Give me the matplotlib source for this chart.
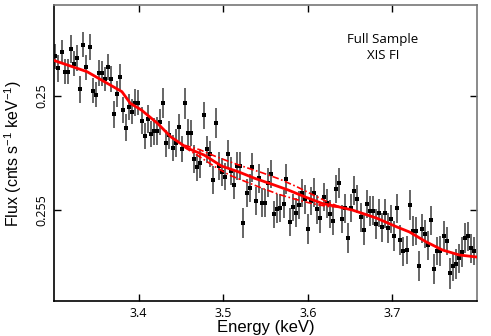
import matplotlib
matplotlib.use("Agg")
import matplotlib.pyplot as plt

# data points (energy in keV, flux, 1-sigma error)
energy = [3.3016, 3.3052, 3.3091, 3.3126, 3.3165, 3.3200, 3.3236, 3.3271, 3.3311, 3.3347,
          3.3382, 3.3421, 3.3457, 3.3492, 3.3528, 3.3567, 3.3602, 3.3637, 3.3673, 3.3708,
          3.3744, 3.3784, 3.3819, 3.3855, 3.3890, 3.3926, 3.3961, 3.3996, 3.4035, 3.4074,
          3.4110, 3.4145, 3.4181, 3.4216, 3.4252, 3.4292, 3.4327, 3.4363, 3.4402, 3.4437,
          3.4472, 3.4511, 3.4547, 3.4582, 3.4618, 3.4658, 3.4693, 3.4729, 3.4768, 3.4803,
          3.4839, 3.4874, 3.4909, 3.4945, 3.4980, 3.5019, 3.5055, 3.5090, 3.5126, 3.5166,
          3.5201, 3.5237, 3.5276, 3.5311, 3.5346, 3.5385, 3.5421, 3.5456, 3.5492, 3.5532,
          3.5567, 3.5603, 3.5638, 3.5677, 3.5713, 3.5748, 3.5787, 3.5822, 3.5858, 3.5893,
          3.5933, 3.5969, 3.6004, 3.6043, 3.6079, 3.6114, 3.6150, 3.6189, 3.6224, 3.6259,
          3.6295, 3.6330, 3.6366, 3.6406, 3.6441, 3.6477, 3.6512, 3.6551, 3.6587, 3.6626,
          3.6661, 3.6696, 3.6732, 3.6767, 3.6803, 3.6843, 3.6878, 3.6914, 3.6949, 3.6985,
          3.7024, 3.7059, 3.7094, 3.7130, 3.7169, 3.7204, 3.7240, 3.7275, 3.7311, 3.7351,
          3.7386, 3.7422, 3.7461, 3.7496, 3.7532, 3.7567, 3.7606, 3.7641, 3.7677, 3.7712,
          3.7748, 3.7788, 3.7823, 3.7859, 3.7898, 3.7933, 3.7969]

flux = [0.24825, 0.24879, 0.24808, 0.24893, 0.24893, 0.24793, 0.24858, 0.24835, 0.24971, 0.24775,
        0.24874, 0.24786, 0.24977, 0.24994, 0.24900, 0.24900, 0.24927, 0.24873, 0.24925, 0.25080,
        0.24991, 0.24918, 0.25061, 0.25139, 0.25047, 0.25069, 0.25029, 0.25029, 0.25108, 0.25175,
        0.25101, 0.25167, 0.25154, 0.25154, 0.25113, 0.25032, 0.25207, 0.25171, 0.25229, 0.25207,
        0.25137, 0.25234, 0.25032, 0.25161, 0.25161, 0.25276, 0.25313, 0.25295, 0.25085, 0.25234,
        0.25254, 0.25368, 0.25118, 0.25307, 0.25332, 0.25354, 0.25256, 0.25329, 0.25390, 0.25307,
        0.25307, 0.25556, 0.25424, 0.25402, 0.25313, 0.25461, 0.25361, 0.25468, 0.25468, 0.25380,
        0.25343, 0.25519, 0.25494, 0.25491, 0.25475, 0.25364, 0.25551, 0.25488, 0.25512, 0.25478,
        0.25424, 0.25453, 0.25585, 0.25459, 0.25424, 0.25497, 0.25536, 0.25442, 0.25471, 0.25518,
        0.25547, 0.25408, 0.25380, 0.25538, 0.25493, 0.25621, 0.25491, 0.25415, 0.25452, 0.25532,
        0.25588, 0.25474, 0.25504, 0.25503, 0.25560, 0.25514, 0.25576, 0.25514, 0.25580, 0.25538,
        0.25614, 0.25493, 0.25632, 0.25680, 0.25675, 0.25478, 0.25592, 0.25592, 0.25746, 0.25582,
        0.25605, 0.25655, 0.25544, 0.25759, 0.25680, 0.25679, 0.25613, 0.25635, 0.25778, 0.25746,
        0.25736, 0.25712, 0.25684, 0.25623, 0.25615, 0.25668, 0.25679]

flux_err = [0.00055, 0.00058, 0.00052, 0.00056, 0.00054, 0.00060, 0.00055, 0.00057, 0.00058, 0.00056,
            0.00055, 0.00057, 0.00054, 0.00056, 0.00058, 0.00055, 0.00053, 0.00057, 0.00056, 0.00060,
            0.00055, 0.00058, 0.00056, 0.00059, 0.00057, 0.00055, 0.00058, 0.00056, 0.00060, 0.00058,
            0.00062, 0.00057, 0.00059, 0.00061, 0.00058, 0.00066, 0.00060, 0.00062, 0.00058, 0.00061,
            0.00059, 0.00057, 0.00068, 0.00060, 0.00058, 0.00062, 0.00060, 0.00063, 0.00061, 0.00059,
            0.00058, 0.00062, 0.00064, 0.00060, 0.00061, 0.00059, 0.00063, 0.00060, 0.00062, 0.00061,
            0.00060, 0.00066, 0.00062, 0.00061, 0.00064, 0.00060, 0.00062, 0.00063, 0.00061, 0.00064,
            0.00062, 0.00060, 0.00063, 0.00062, 0.00061, 0.00065, 0.00062, 0.00060, 0.00063, 0.00061,
            0.00062, 0.00064, 0.00066, 0.00061, 0.00063, 0.00062, 0.00064, 0.00061, 0.00063, 0.00062,
            0.00064, 0.00063, 0.00065, 0.00062, 0.00063, 0.00066, 0.00061, 0.00064, 0.00062, 0.00063,
            0.00065, 0.00062, 0.00064, 0.00063, 0.00065, 0.00062, 0.00064, 0.00063, 0.00065, 0.00062,
            0.00064, 0.00063, 0.00065, 0.00064, 0.00062, 0.00066, 0.00064, 0.00063, 0.00065, 0.00064,
            0.00063, 0.00065, 0.00064, 0.00066, 0.00063, 0.00065, 0.00064, 0.00062, 0.00066, 0.00064,
            0.00065, 0.00063, 0.00064, 0.00066, 0.00064, 0.00065, 0.00063]

# best-fit model
model_energy = [3.300, 3.3389, 3.3666, 3.3803, 3.3902, 3.4032, 3.4224, 3.4381, 3.4579, 3.4776,
                3.4980, 3.5178, 3.5374, 3.5571, 3.5768, 3.5972, 3.6170, 3.6366, 3.6528, 3.6811,
                3.7059, 3.7201, 3.7402, 3.7591, 3.7791, 3.800]
model_flux = [0.24844, 0.24893, 0.24952, 0.24981, 0.25032, 0.25061, 0.25120, 0.25179, 0.25229, 0.25259,
              0.25307, 0.25332, 0.25361, 0.25386, 0.25412, 0.25443, 0.25471, 0.25486, 0.25500, 0.25535,
              0.25575, 0.25596, 0.25640, 0.25675, 0.25697, 0.25706]

# model +/- line component
line_energy = [3.4543, 3.4720, 3.4898, 3.5075, 3.5276, 3.5465, 3.5665, 3.5866, 3.6055, 3.6232, 3.6374]
line_upper = [0.25216, 0.25235, 0.25263, 0.25288, 0.25314, 0.25337, 0.25364, 0.25397, 0.25432, 0.25464, 0.25486]
line_lower = [0.25225, 0.25266, 0.25309, 0.25347, 0.25377, 0.25405, 0.25432, 0.25454, 0.25472, 0.25484, 0.25486]

xticks = [3.4, 3.5, 3.6, 3.7]
yticks = [0.25, 0.255]
ytick_labels = ["0.25", "0.255"]

plt.rcParams["mathtext.fontset"] = "custom"
plt.rcParams["mathtext.rm"] = "Liberation Sans"
plt.rcParams["mathtext.it"] = "Liberation Sans"
plt.rcParams["mathtext.default"] = "regular"

fig = plt.figure(figsize=(4.91, 3.36), dpi=100)
ax = fig.add_axes([0.110, 0.104, 0.8615, 0.881])

ax.errorbar(energy, flux, yerr=flux_err, fmt="s", ms=2.5, mew=0, color="black",
            ecolor="#656565", elinewidth=1.4, capsize=0, zorder=2)
ax.plot(model_energy, model_flux, color="red", lw=2.0, zorder=4)
ax.plot(line_energy, line_upper, color="red", lw=1.2, dashes=(4, 1.5, 1, 1.5), zorder=3)
ax.plot(line_energy, line_lower, color="red", lw=1.2, dashes=(4, 1.5, 1, 1.5), zorder=3)

ax.set_xlim(3.3, 3.8)
ax.set_ylim(0.25899, 0.24601)

ax.set_xticks(xticks)
ax.set_yticks(yticks, labels=ytick_labels)
ax.tick_params(direction="in", length=5, width=1, top=True, right=True,
               labelsize=9, pad=4)
for lab in ax.get_xticklabels() + ax.get_yticklabels():
    lab.set_fontfamily("Open Sans")
for lab in ax.get_yticklabels():
    lab.set_rotation(90)
    lab.set_va("center")

for side in ["left", "bottom"]:
    ax.spines[side].set_linewidth(1.2)
    ax.spines[side].set_color("black")
for side in ["top", "right"]:
    ax.spines[side].set_linewidth(1.2)
    ax.spines[side].set_color("#777777")

ax.set_xlabel("Energy (keV)", fontsize=12, family="Liberation Sans", labelpad=0)
ax.set_ylabel(r"Flux (cnts s$^{-1}$ keV$^{-1}$)", fontsize=11.5, family="Liberation Sans")
ax.xaxis.set_label_coords(0.5, -0.065)
ax.yaxis.set_label_coords(-0.072, 0.5)

ax.text(0.778, 0.905, "Full Sample\nXIS FI", transform=ax.transAxes, ha="center", va="top",
        fontsize=9.5, family="Open Sans", linespacing=1.25)

fig.savefig("out.png", dpi=100)
